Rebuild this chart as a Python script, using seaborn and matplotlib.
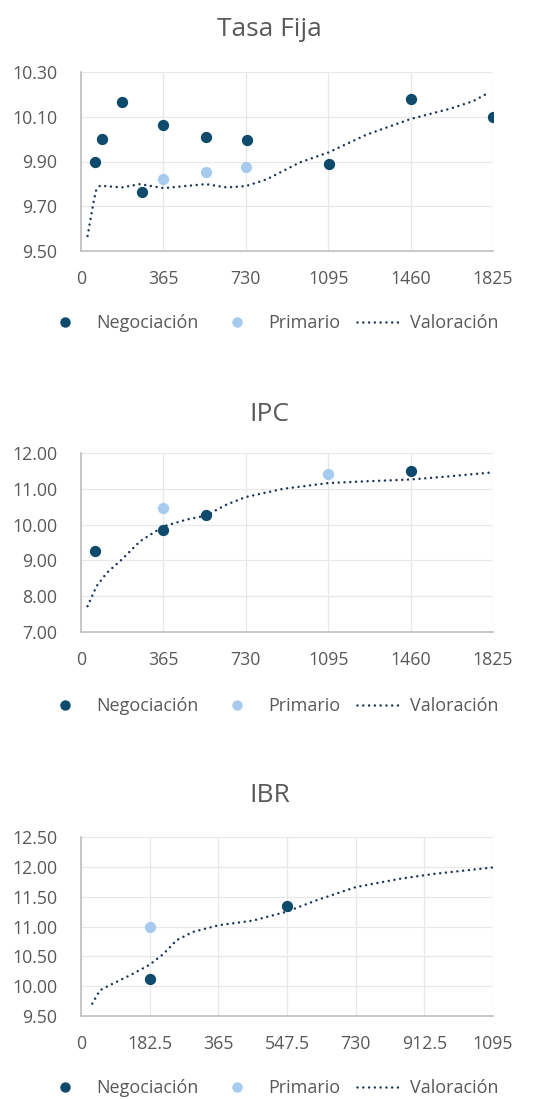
import pandas as pd
import matplotlib.pyplot as plt
import seaborn as sns
from matplotlib.lines import Line2D

# Tasa Fija
tf_neg_x = [62, 91, 183, 272, 365, 553, 734, 1097, 1460, 1825]
tf_neg_y = [9.90, 10.00, 10.165, 9.763, 10.062, 10.011, 9.996, 9.887, 10.179, 10.10]
tf_pri_x = [365, 553, 730]
tf_pri_y = [9.823, 9.853, 9.874]
tf_val_x = [29, 54, 66, 84, 180, 261, 365, 553, 645, 730, 822, 970, 1095, 1265, 1460, 1635, 1738, 1810]
tf_val_y = [9.567, 9.709, 9.769, 9.792, 9.784, 9.799, 9.781, 9.799, 9.784, 9.79,
            9.82, 9.896, 9.94, 10.02, 10.09, 10.136, 10.17, 10.21]

# IPC
ipc_neg_x = [62, 365, 553, 1460]
ipc_neg_y = [9.27, 9.86, 10.26, 11.49]
ipc_pri_x = [365, 1095]
ipc_pri_y = [10.45, 11.41]
ipc_val_x = [29, 69, 114, 180, 261, 365, 468, 553, 645, 730, 896, 1095, 1265, 1460, 1635, 1825]
ipc_val_y = [7.72, 8.28, 8.65, 9.02, 9.53, 9.95, 10.14, 10.25, 10.56, 10.77,
             11.00, 11.16, 11.21, 11.26, 11.35, 11.46]

# IBR
ibr_neg_x = [182.5, 547.5]
ibr_neg_y = [10.126, 11.338]
ibr_pri_x = [182.5]
ibr_pri_y = [11.00]
ibr_val_x = [30, 50, 68, 139, 182.5, 219, 254, 298, 365, 458, 547.5, 626, 730, 848, 936, 1095]
ibr_val_y = [9.707, 9.93, 9.99, 10.21, 10.36, 10.54, 10.77, 10.91, 11.02, 11.10,
             11.25, 11.44, 11.66, 11.80, 11.88, 11.99]

titles = ['Tasa Fija', 'IPC', 'IBR']
x_ticks = [[0, 365, 730, 1095, 1460, 1825],
           [0, 365, 730, 1095, 1460, 1825],
           [0, 182.5, 365, 547.5, 730, 912.5, 1095]]
x_labels = [['0', '365', '730', '1095', '1460', '1825'],
            ['0', '365', '730', '1095', '1460', '1825'],
            ['0', '182.5', '365', '547.5', '730', '912.5', '1095']]
y_ticks = [[9.50, 9.70, 9.90, 10.10, 10.30],
           [7, 8, 9, 10, 11, 12],
           [9.5, 10.0, 10.5, 11.0, 11.5, 12.0, 12.5]]

panels = [
    (tf_neg_x, tf_neg_y, tf_pri_x, tf_pri_y, tf_val_x, tf_val_y),
    (ipc_neg_x, ipc_neg_y, ipc_pri_x, ipc_pri_y, ipc_val_x, ipc_val_y),
    (ibr_neg_x, ibr_neg_y, ibr_pri_x, ibr_pri_y, ibr_val_x, ibr_val_y),
]

NEG = '#0D4A6B'
PRI = '#A6CBEE'
VAL = '#1B3455'
TXT = '#595959'
DOTS = (0, (0.01, 2.3))

sns.set_style('whitegrid')
plt.rcParams['font.family'] = ['Open Sans', 'DejaVu Sans']

W, H = 539, 1099
fig = plt.figure(figsize=(W / 100, H / 100), dpi=100)

ax_tops = [72, 453, 837]
ax_h = 179
title_base = [36, 421, 802]
legend_y = [323, 706, 1088]

for i, (nx, ny, px, py, vx, vy) in enumerate(panels):
    top = ax_tops[i]
    ax = fig.add_axes([81 / W, 1 - (top + ax_h) / H, 412 / W, ax_h / H])

    val = pd.DataFrame({'x': vx, 'y': vy})
    sns.lineplot(data=val, x='x', y='y', ax=ax, color=VAL, lw=1.8,
                 linestyle=DOTS, dash_capstyle='round', estimator=None, sort=True, zorder=2)
    sns.scatterplot(x=px, y=py, ax=ax, color=PRI, s=66, linewidth=0, zorder=3)
    sns.scatterplot(x=nx, y=ny, ax=ax, color=NEG, s=66, linewidth=0, zorder=4)

    ax.set_xlim(x_ticks[i][0], x_ticks[i][-1])
    ax.set_ylim(y_ticks[i][0], y_ticks[i][-1])
    ax.set_xticks(x_ticks[i])
    ax.set_xticklabels(x_labels[i])
    ax.set_yticks(y_ticks[i])
    ax.set_yticklabels(['%.2f' % v for v in y_ticks[i]])
    ax.set_xlabel('')
    ax.set_ylabel('')
    ax.tick_params(axis='both', length=0, labelsize=12.8, labelcolor=TXT)
    ax.tick_params(axis='y', pad=17)
    ax.tick_params(axis='x', pad=14)
    ax.grid(True, color='#E8E8E8', lw=0.9)
    for side in ['top', 'right']:
        ax.spines[side].set_visible(False)
    for side in ['left', 'bottom']:
        ax.spines[side].set_color('#BFBFBF')
        ax.spines[side].set_linewidth(1.2)

    fig.text(0.5, 1 - title_base[i] / H, titles[i], ha='center', va='baseline',
             fontsize=19, color=TXT)

    handles = [
        Line2D([], [], marker='o', ls='none', color=NEG, markersize=7.5, markeredgewidth=0),
        Line2D([], [], marker='o', ls='none', color=PRI, markersize=7.5, markeredgewidth=0),
        Line2D([], [], color=VAL, lw=1.8, linestyle=DOTS, dash_capstyle='round'),
    ]
    fig.legend(handles, ['Negociación', 'Primario', 'Valoración'], loc='center',
               bbox_to_anchor=(271 / W, 1 - legend_y[i] / H), ncol=3, frameon=False,
               fontsize=13, labelcolor=TXT, handlelength=2.4, handletextpad=0.55,
               columnspacing=0.9)

fig.savefig('out.png', dpi=100)
